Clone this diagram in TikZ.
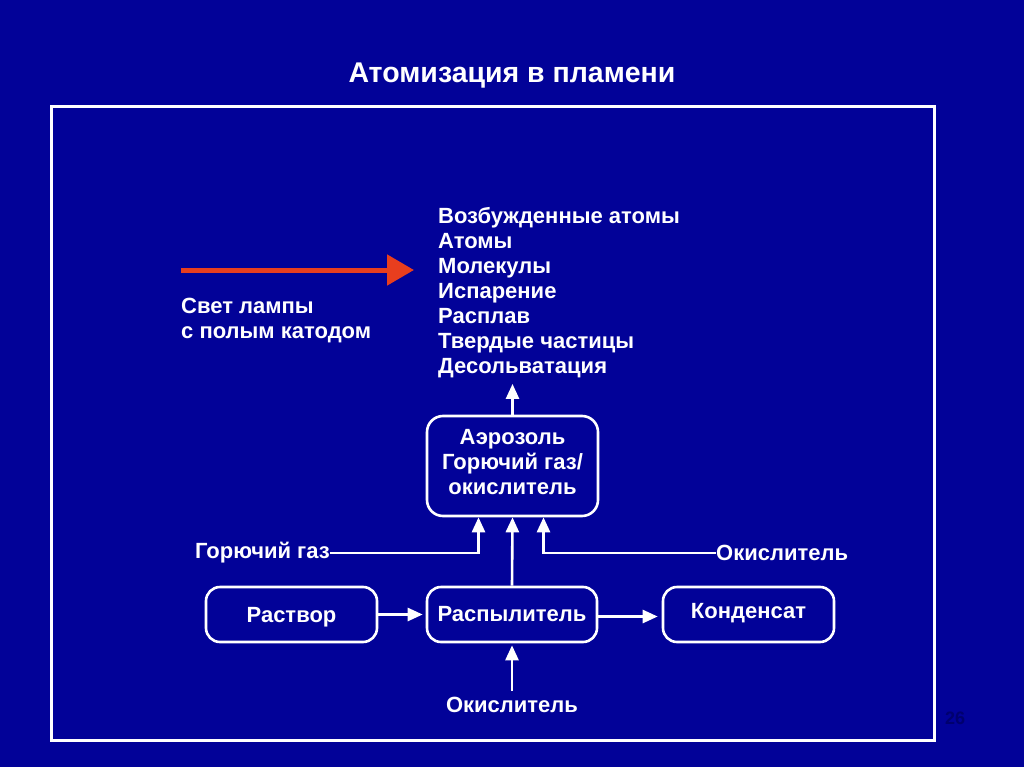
\documentclass[tikz,border=0pt]{standalone}
\usepackage{fontspec}
\setmainfont{Liberation Sans}
\usetikzlibrary{arrows.meta}
\definecolor{bg}{RGB}{2,2,152}
\definecolor{redarr}{RGB}{232,62,30}
\definecolor{pagenum}{RGB}{0,0,110}
\tikzset{
  box/.style={draw=white, line width=2.6pt, rounded corners=16pt, text=white, font=\fontsize{22}{25}\selectfont\bfseries, align=center, inner sep=0pt},
  lbl/.style={text=white, font=\fontsize{22}{25}\selectfont\bfseries, inner sep=0pt},
  arr/.style={draw=white, line width=2.6pt, -{Triangle[width=13pt,length=15pt]}},
}
\begin{document}
\begin{tikzpicture}[x=1pt,y=-1pt]
\fill[bg] (0,0) rectangle (1024,767);
\useasboundingbox (0,0) rectangle (1024,767);
\draw[white, line width=3pt] (51,107) rectangle (934,740);
\node[lbl, font=\fontsize{28.5}{30}\selectfont\bfseries] (title) at (512,76) {Атомизация в пламени};
% red arrow
\coordinate (rs) at (181,270);
\coordinate (re) at (414,270);
\draw[redarr, line width=5pt, -{Triangle[width=30pt,length=27pt]}] (rs) -- (re);
\node[lbl, align=left, anchor=north west] (lamp) at (181,298) {Свет лампы\\с полым катодом};
\node[lbl, align=left, anchor=north west] (list) at (438,207) {Возбужденные атомы\\Атомы\\Молекулы\\Испарение\\Расплав\\Твердые частицы\\Десольватация};
% boxes
\node[box, minimum width=171pt, minimum height=100pt] (aer) at (512.5,466) {};
\node[lbl, align=center] (aertxt) at (512.5,462) {Аэрозоль\\Горючий газ/\\окислитель};
\node[box, minimum width=171pt, minimum height=55pt, rounded corners=14pt] (sol) at (291.5,614.5) {\raisebox{-3pt}[\height][\depth]{Раствор}};
\node[box, minimum width=170pt, minimum height=55pt, rounded corners=14pt] (spray) at (512,614.5) {Распылитель};
\node[box, minimum width=171pt, minimum height=55pt, rounded corners=14pt] (cond) at (748.5,614.5) {\raisebox{1pt}[\height][\depth]{Конденсат}};
% labels
\node[lbl, anchor=east] (gasL) at (330,553) {Горючий газ};
\node[lbl, anchor=west] (oxR) at (716,553) {Окислитель};
\node[lbl] (oxB) at (512,705) {Окислитель};
\node[text=pagenum, font=\fontsize{18}{20}\selectfont\bfseries, inner sep=0pt] (pg) at (955,718) {26};
% connectors
\draw[arr] (aer.north) -- ([yshift=-6pt]aer.north |- list.south);
\draw[arr] (gasL.east) -| ([xshift=-34pt]aer.south);
\draw[arr] (oxR.west) -| ([xshift=31pt]aer.south);
\draw[arr] (spray.north) -- (aer.south);
\draw[arr, shorten >=3pt] (sol.east) -- (spray.west);
\draw[arr, shorten >=4pt] ([yshift=-2pt]spray.east) -- ([yshift=-2pt]cond.west);
\draw[arr, shorten >=2pt] ([yshift=6pt]oxB.north) -- (spray.south);
\end{tikzpicture}
\end{document}
